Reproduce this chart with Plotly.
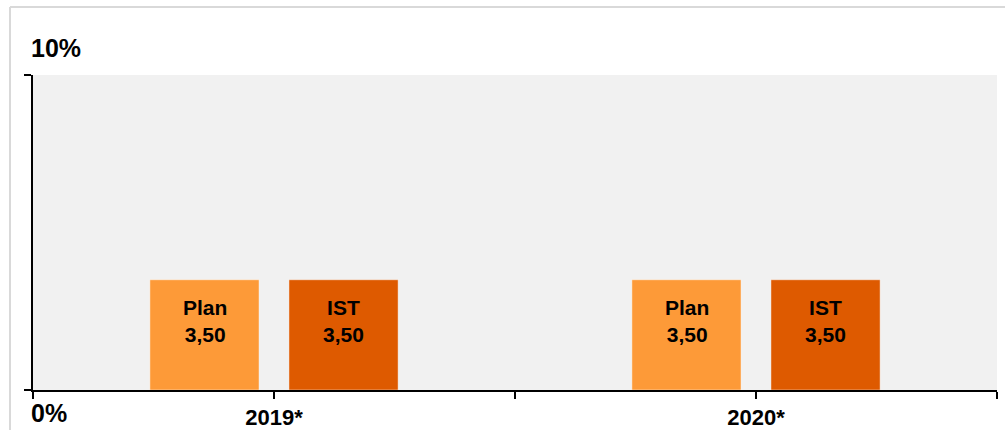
import plotly.graph_objects as go

categories = ["2019*", "2020*"]
series_names = ["Plan", "IST"]
plan_values = [3.50, 3.50]
ist_values = [3.50, 3.50]
y_tick_labels = ["0%", "10%"]
y_tick_values = [0, 10]

FONT = "Liberation Sans Narrow, Arial Narrow, Liberation Sans, Arial, sans-serif"
colors = ["#FD9A38", "#DE5A00"]

W, H = 1005, 430
L, R, T, B = 33, 8, 75, 40
pw, ph = W - L - R, H - T - B

x_idx = list(range(len(categories)))
fig = go.Figure()
for name, vals, col in zip(series_names, [plan_values, ist_values], colors):
    fig.add_trace(go.Bar(
        x=x_idx, y=vals, name=name,
        marker=dict(color=col, line=dict(color="rgba(255,255,255,0.45)", width=1)),
        hoverinfo="skip",
    ))

# labels inside bars
shift = [-69.5, 69.5]
annotations = []
for si, (name, vals) in enumerate(zip(series_names, [plan_values, ist_values])):
    for xi, v in zip(x_idx, vals):
        annotations.append(dict(
            x=xi, y=v, xref="x", yref="y", xshift=shift[si], yshift=-14,
            xanchor="center", yanchor="top", showarrow=False,
            text=f"{name}<br>{v:.2f}".replace(".", ","),
            font=dict(family=FONT, size=21, color="black", weight="bold"),
        ))

# y labels
annotations.append(dict(x=(29 - L) / pw, y=(H - B - 48) / ph, xref="paper", yref="paper",
                        xanchor="left", yanchor="middle", showarrow=False,
                        text=y_tick_labels[1],
                        font=dict(family=FONT, size=25, color="black", weight="bold")))
annotations.append(dict(x=(29 - L) / pw, y=(H - B - 413) / ph, xref="paper", yref="paper",
                        xanchor="left", yanchor="middle", showarrow=False,
                        text=y_tick_labels[0],
                        font=dict(family=FONT, size=25, color="black", weight="bold")))

tickvals = []
ticktext = []
for i, c in enumerate(categories):
    tickvals += [i - 0.5, i]
    ticktext += ["", c]
tickvals.append(len(categories) - 0.5)
ticktext.append("")

shapes = [
    dict(type="line", xref="paper", yref="paper",
         x0=(10 - L) / pw, x1=(W - L) / pw, y0=(H - B - 7) / ph, y1=(H - B - 7) / ph,
         line=dict(color="#d9d9d9", width=2)),
    dict(type="line", xref="paper", yref="paper",
         x0=(10 - L) / pw, x1=(10 - L) / pw, y0=(H - B - 7) / ph, y1=(H - B - H) / ph,
         line=dict(color="#d9d9d9", width=2)),
]

fig.update_layout(
    width=W, height=H,
    margin=dict(l=L, r=R, t=T, b=B, pad=0, autoexpand=False),
    paper_bgcolor="white", plot_bgcolor="#f1f1f1",
    barmode="group", bargap=0.423, bargroupgap=0.215,
    showlegend=False,
    separators=",.",
    annotations=annotations,
    shapes=shapes,
    xaxis=dict(
        range=[-0.5, len(categories) - 0.5],
        tickmode="array", tickvals=tickvals, ticktext=ticktext,
        ticks="outside", ticklen=7, tickwidth=2, tickcolor="black",
        showline=True, linecolor="black", linewidth=2,
        showgrid=False, zeroline=False, automargin=False,
        ticklabelstandoff=0,
        tickfont=dict(family=FONT, size=22, color="black", weight="bold"),
    ),
    yaxis=dict(
        range=[0, 10],
        tickmode="array", tickvals=y_tick_values,
        showticklabels=False, automargin=False,
        ticks="outside", ticklen=7, tickwidth=2, tickcolor="black",
        showline=True, linecolor="black", linewidth=2,
        showgrid=False, zeroline=False,
    ),
)

fig.write_html("out.html")
